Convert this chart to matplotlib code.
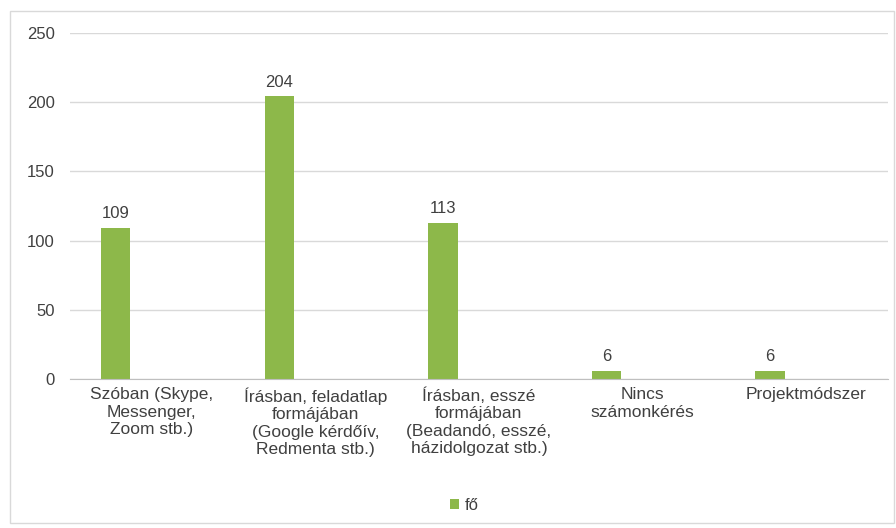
import numpy as np
import matplotlib.pyplot as plt
from matplotlib.patches import Rectangle

# survey answers: how the teachers checked the students' work
categories = ['Szóban (Skype,\nMessenger,\nZoom stb.)',
              'Írásban, feladatlap\nformájában\n(Google kérdőív,\nRedmenta stb.)',
              'Írásban, esszé\nformájában\n(Beadandó, esszé,\nházidolgozat stb.)',
              'Nincs\nszámonkérés',
              'Projektmódszer']
fo = [109, 204, 113, 6, 6]
yticks = [0, 50, 100, 150, 200, 250]

green = '#8db84a'
txt = '#404040'
plt.rcParams['font.family'] = ['Liberation Sans', 'DejaVu Sans']

fig = plt.figure(figsize=(8.96, 5.28), dpi=100)
ax = fig.add_axes([0.078, 0.282, 0.913, 0.656])

x = np.arange(len(categories))
bars = ax.bar(x - 0.22, fo, width=0.18, color=green, label='fő', zorder=3)
for b, v in zip(bars, fo):
    ax.annotate(str(v), (b.get_x() + b.get_width() / 2, v), xytext=(0, 5),
                textcoords='offset points', ha='center', va='bottom',
                fontsize=12, color=txt)

ax.set_xlim(-0.5, len(categories) - 0.5)
ax.set_ylim(0, 250)
ax.set_yticks(yticks)
ax.set_xticks(x)
ax.set_xticklabels(categories, fontsize=12.5, color=txt, linespacing=1.2)
ax.tick_params(axis='y', length=0, pad=11, labelsize=12, labelcolor=txt)
ax.tick_params(axis='x', length=0, pad=6)
ax.yaxis.grid(True, color='#d9d9d9', linewidth=1, zorder=0)
for s in ['top', 'right', 'left']:
    ax.spines[s].set_visible(False)
ax.spines['bottom'].set_color('#bfbfbf')
ax.spines['bottom'].set_zorder(4)

fig.legend(handles=[bars], labels=['fő'], loc='center', bbox_to_anchor=(0.518, 0.043),
           frameon=False, fontsize=12, labelcolor=txt, handlelength=0.55,
           handleheight=0.55, handletextpad=0.3)

# thin frame round the whole chart area
fig.patches.append(Rectangle((10 / 896, 5 / 528), 884 / 896, 512 / 528, transform=fig.transFigure,
                             fill=False, edgecolor='#d9d9d9', linewidth=1))

fig.savefig('out.png', dpi=100)
